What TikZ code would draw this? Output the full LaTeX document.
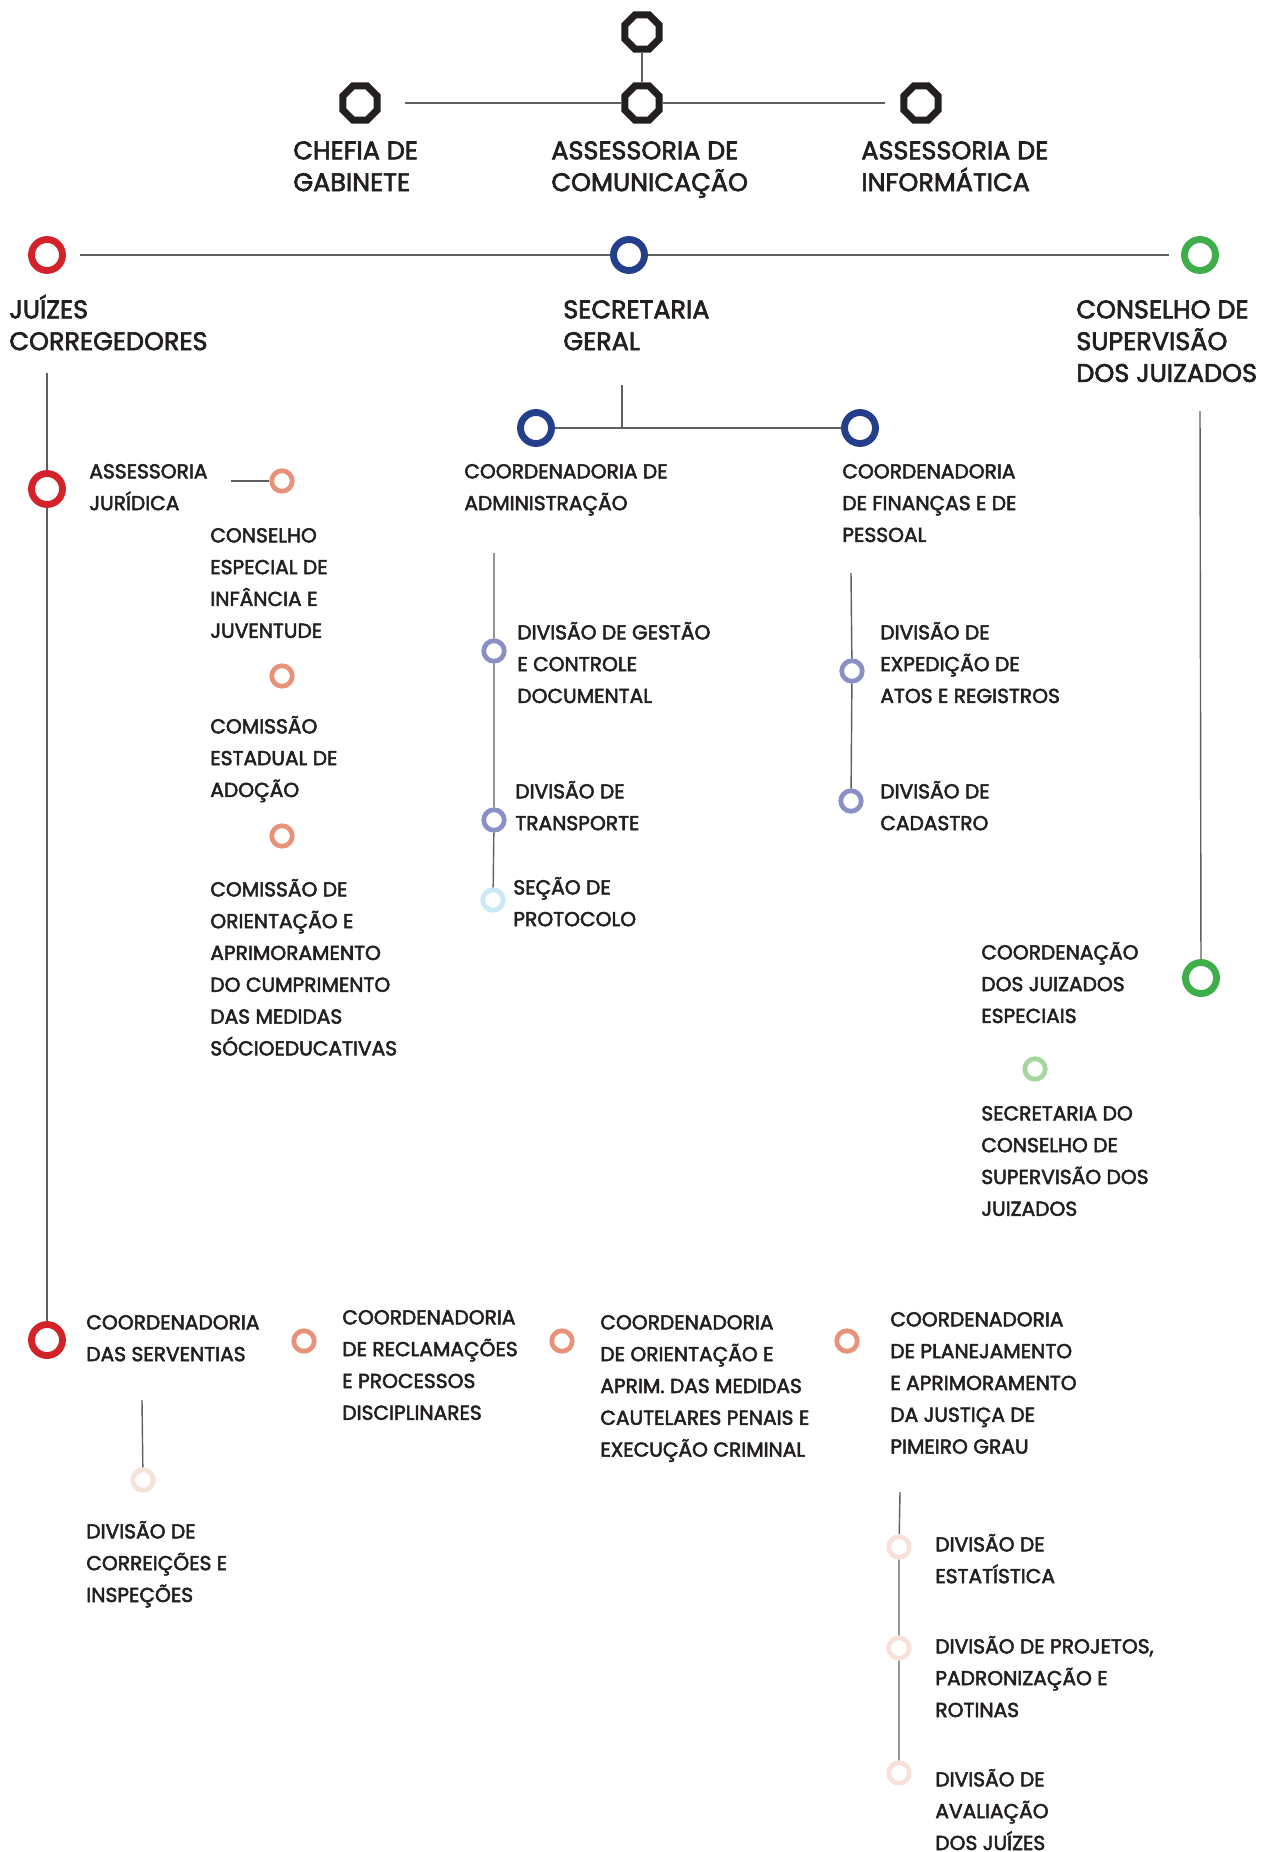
\documentclass[tikz,border=0pt]{standalone}
\usepackage{fontspec}
\setmainfont{Poppins}[FakeBold=2.5]
\usepackage{xcolor}
\usetikzlibrary{shapes.geometric}
\definecolor{ink}{HTML}{231F20}
\definecolor{linegray}{HTML}{5E5F61}
\definecolor{tjred}{HTML}{D2232A}
\definecolor{tjnavy}{HTML}{233E8B}
\definecolor{tjgreen}{HTML}{3DAE49}
\definecolor{salmon}{HTML}{E8927A}
\definecolor{lavender}{HTML}{8A8FC6}
\definecolor{skyblue}{HTML}{C9E8F8}
\definecolor{mint}{HTML}{A5D69D}
\definecolor{blush}{HTML}{F8E1D8}
\newcommand{\tp}{\rule{0pt}{14pt}}
\tikzset{
  octo/.style={regular polygon,regular polygon sides=8,draw=ink,line width=4pt,fill=white,minimum size=0.74cm,inner sep=0pt},
  ringbig/.style={circle,draw=#1,line width=3.9pt,fill=white,minimum size=0.62cm,inner sep=0pt},
  ringsm/.style={circle,draw=#1,line width=2.7pt,fill=white,minimum size=0.41cm,inner sep=0pt},
  head/.style={anchor=north west,align=left,inner sep=0pt,text=ink,font=\fontsize{14.5}{18.1}\selectfont,yshift=8.9pt},
  lbl/.style={anchor=north west,align=left,inner sep=0pt,text=ink,font=\fontsize{11.5}{18.1}\selectfont,yshift=10pt},
  link/.style={draw=linegray,line width=0.8pt}
}

\begin{document}
\begin{tikzpicture}[x=0.02cm,y=-0.02cm]
  \useasboundingbox[fill=white] (0,0) rectangle (1266,1852);
  % topo
  \node[octo] (o-top) at (642,32) {};
  \node[octo] (o-chefia) at (360,103) {};
  \node[octo] (o-comunic) at (642,103) {};
  \node[octo] (o-info) at (921,103) {};
  \node[head] (t-chefia) at (293,150) {\tp CHEFIA DE\\GABINETE};
  \node[head] (t-comunic) at (551,150) {\tp ASSESSORIA DE\\COMUNICAÇÃO};
  \node[head] (t-info) at (861,150) {\tp ASSESSORIA DE\\INFORMÁTICA};
  \draw[link] (o-top) -- (o-comunic);
  \draw[link,shorten <=0.48cm] (o-chefia) -- (o-comunic);
  \draw[link,shorten >=0.3cm] (o-comunic) -- (o-info);

  % nivel 1
  \node[ringbig=tjred] (r-juizes) at (47,255) {};
  \node[ringbig=tjnavy] (r-secger) at (629,255) {};
  \node[ringbig=tjgreen] (r-conselho) at (1200,255) {};
  \node[head] (t-juizes) at (9,309) {\tp JUÍZES\\CORREGEDORES};
  \node[head] (t-secger) at (563,309) {\tp SECRETARIA\\GERAL};
  \node[head] (t-conselho) at (1076,309) {\tp CONSELHO DE\\SUPERVISÃO\\DOS JUIZADOS};
  \draw[link,shorten <=0.28cm] (r-juizes) -- (r-secger);
  \draw[link,shorten >=0.24cm] (r-secger) -- (r-conselho);

  % juizes corregedores
  \coordinate (c-jz) at (47,373);
  \coordinate (c-aj) at (231,481);
  \node[ringbig=tjred] (r-asjur) at (47,489) {};
  \node[ringbig=tjred] (r-servent) at (47,1340) {};
  \node[ringsm=salmon] (s-cesp) at (282,481) {};
  \node[ringsm=salmon] (s-cead) at (282,676) {};
  \node[ringsm=salmon] (s-coa) at (282,836) {};
  \node[lbl] (t-asjur) at (89,471) {\tp ASSESSORIA\\JURÍDICA};
  \node[lbl] (t-cesp) at (210,535) {\tp CONSELHO\\ESPECIAL DE\\INFÂNCIA E\\JUVENTUDE};
  \node[lbl] (t-cead) at (210,726) {\tp COMISSÃO\\ESTADUAL DE\\ADOÇÃO};
  \node[lbl] (t-coa) at (210,889) {\tp COMISSÃO DE\\ORIENTAÇÃO E\\APRIMORAMENTO\\DO CUMPRIMENTO\\DAS MEDIDAS\\SÓCIOEDUCATIVAS};
  \draw[link] (c-jz) -- (r-asjur) -- (r-servent);
  \draw[link] (c-aj) -- (s-cesp);

  % secretaria geral
  \coordinate (c-sg) at (622,385);
  \coordinate (c-sgj) at (622,428);
  \node[ringbig=tjnavy] (r-admin) at (536,428) {};
  \node[ringbig=tjnavy] (r-financ) at (860,428) {};
  \node[lbl] (t-admin) at (464,471) {\tp COORDENADORIA DE\\ADMINISTRAÇÃO};
  \node[lbl] (t-financ) at (842,471) {\tp COORDENADORIA\\DE FINANÇAS E DE\\PESSOAL};
  \draw[link] (c-sg) -- (c-sgj);
  \draw[link] (r-admin) -- (r-financ);

  \coordinate (c-adm) at (494,553);
  \node[ringsm=lavender] (d-gestao) at (494,651) {};
  \node[ringsm=lavender] (d-transp) at (494,820) {};
  \node[ringsm=skyblue] (d-protoc) at (493,900) {};
  \node[lbl] (t-gestao) at (517,632) {\tp DIVISÃO DE GESTÃO\\E CONTROLE\\DOCUMENTAL};
  \node[lbl] (t-transp) at (515,791) {\tp DIVISÃO DE\\TRANSPORTE};
  \node[lbl] (t-protoc) at (513,887) {\tp SEÇÃO DE\\PROTOCOLO};
  \draw[link] (c-adm) -- (d-gestao) -- (d-transp) -- (d-protoc);

  \coordinate (c-fin) at (851,573);
  \node[ringsm=lavender] (d-exped) at (852,671) {};
  \node[ringsm=lavender] (d-cadastro) at (851,801) {};
  \node[lbl] (t-exped) at (880,632) {\tp DIVISÃO DE\\EXPEDIÇÃO DE\\ATOS E REGISTROS};
  \node[lbl] (t-cadastro) at (880,791) {\tp DIVISÃO DE\\CADASTRO};
  \draw[link] (c-fin) -- (d-exped) -- (d-cadastro);

  % conselho de supervisao
  \coordinate (c-cs) at (1200,411);
  \node[ringbig=tjgreen] (r-jesp) at (1201,978) {};
  \node[ringsm=mint] (g-secjuiz) at (1035,1069) {};
  \node[lbl] (t-jesp) at (981,952) {\tp COORDENAÇÃO\\DOS JUIZADOS\\ESPECIAIS};
  \node[lbl] (t-secjuiz) at (981,1113) {\tp SECRETARIA DO\\CONSELHO DE\\SUPERVISÃO DOS\\JUIZADOS};
  \draw[link] (c-cs) -- (r-jesp);

  % coordenadorias
  \node[ringsm=salmon] (s-reclam) at (304,1341) {};
  \node[ringsm=salmon] (s-orient) at (562,1341) {};
  \node[ringsm=salmon] (s-planej) at (847,1341) {};
  \node[lbl] (t-servent) at (86,1322) {\tp COORDENADORIA\\DAS SERVENTIAS};
  \node[lbl] (t-reclam) at (342,1317) {\tp COORDENADORIA\\DE RECLAMAÇÕES\\E PROCESSOS\\DISCIPLINARES};
  \node[lbl] (t-orient) at (600,1322) {\tp COORDENADORIA\\DE ORIENTAÇÃO E\\APRIM. DAS MEDIDAS\\CAUTELARES PENAIS E\\EXECUÇÃO CRIMINAL};
  \node[lbl] (t-planej) at (890,1319) {\tp COORDENADORIA\\DE PLANEJAMENTO\\E APRIMORAMENTO\\DA JUSTIÇA DE\\PIMEIRO GRAU};

  \coordinate (c-sv) at (142,1400);
  \node[ringsm=blush] (p-correic) at (143,1480) {};
  \node[lbl] (t-correic) at (86,1531) {\tp DIVISÃO DE\\CORREIÇÕES E\\INSPEÇÕES};
  \draw[link] (c-sv) -- (p-correic);

  \coordinate (c-pl) at (900,1492);
  \node[ringsm=blush] (p-estat) at (899,1547) {};
  \node[ringsm=blush] (p-proj) at (899,1648) {};
  \node[ringsm=blush] (p-aval) at (899,1773) {};
  \node[lbl] (t-estat) at (935,1544) {\tp DIVISÃO DE\\ESTATÍSTICA};
  \node[lbl] (t-proj) at (935,1646) {\tp DIVISÃO DE PROJETOS,\\PADRONIZAÇÃO E\\ROTINAS};
  \node[lbl] (t-aval) at (935,1779) {\tp DIVISÃO DE\\AVALIAÇÃO\\DOS JUÍZES};
  \draw[link] (c-pl) -- (p-estat) -- (p-proj) -- (p-aval);
\end{tikzpicture}
\end{document}
